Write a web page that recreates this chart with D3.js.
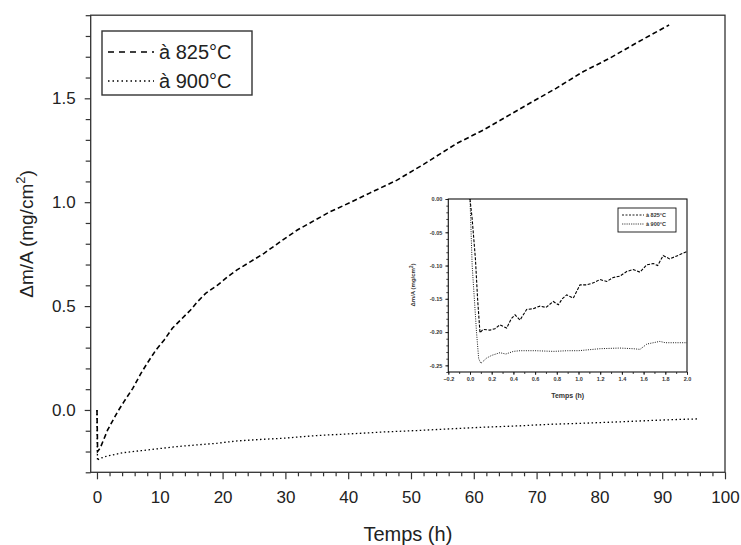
<!DOCTYPE html>
<html><head><meta charset="utf-8">
<script src="https://cdn.jsdelivr.net/npm/d3@7/dist/d3.min.js"></script>
<style>
html,body{margin:0;padding:0;background:#fff;}
text{font-family:"Liberation Sans",Arial,sans-serif;}
</style></head>
<body><svg id="c" width="741" height="545"></svg>
<script>
// ---------- Data (main chart) ----------
const seriesNames = ["à 825°C", "à 900°C"];
const t825 = [0, 0.05, 0.1, 0.5, 1.7, 3.3, 4.3, 5.7, 7.0, 8.0, 9.4, 10.7, 12.0, 13.3, 14.9, 16.0, 17.3, 19.2, 20.8, 22.3, 24.4, 26.6, 29.2, 31.9, 34.5, 37.1, 40.3, 43.5, 47.7, 52.0, 57.3, 61.5, 65.7, 68.9, 73.1, 77.4, 81.6, 85.8, 91.1];
const v825 = [0, -0.1, -0.2, -0.184, -0.096, -0.008, 0.04, 0.104, 0.176, 0.225, 0.289, 0.337, 0.393, 0.433, 0.481, 0.521, 0.561, 0.601, 0.641, 0.674, 0.713, 0.754, 0.810, 0.866, 0.91, 0.954, 0.998, 1.045, 1.105, 1.182, 1.283, 1.347, 1.42, 1.476, 1.548, 1.628, 1.692, 1.765, 1.853];
const t900 = [0, 0.08, 0.3, 1.7, 4.3, 7.0, 9.6, 12.8, 16.0, 19.2, 22.3, 26.6, 29.7, 35.0, 40.3, 45.6, 50.9, 56.2, 61.5, 66.8, 72.1, 77.3, 82.6, 87.9, 93.2, 95.9];
const v900 = [0, -0.245, -0.235, -0.221, -0.205, -0.196, -0.187, -0.176, -0.168, -0.160, -0.149, -0.141, -0.136, -0.123, -0.115, -0.106, -0.099, -0.091, -0.083, -0.077, -0.069, -0.064, -0.058, -0.051, -0.045, -0.043];
const xTicks = [0, 10, 20, 30, 40, 50, 60, 70, 80, 90, 100];
const yTicks = [0.0, 0.5, 1.0, 1.5];

// ---------- Data (inset) ----------
const it825 = [0, 0.02, 0.05, 0.07, 0.092, 0.12, 0.184, 0.23, 0.276, 0.338, 0.38, 0.415, 0.461, 0.522, 0.58, 0.645, 0.7, 0.768, 0.814, 0.85, 0.891, 0.952, 1.014, 1.075, 1.137, 1.198, 1.26, 1.32, 1.38, 1.444, 1.505, 1.567, 1.628, 1.69, 1.73, 1.78, 1.84, 1.9, 2.0];
const iv825 = [0, -0.03, -0.09, -0.15, -0.201, -0.196, -0.197, -0.195, -0.189, -0.194, -0.18, -0.174, -0.182, -0.166, -0.165, -0.161, -0.163, -0.154, -0.159, -0.15, -0.144, -0.149, -0.129, -0.129, -0.126, -0.121, -0.124, -0.118, -0.116, -0.109, -0.106, -0.110, -0.099, -0.097, -0.1, -0.085, -0.09, -0.086, -0.079];
const it900 = [0, 0.01, 0.02, 0.04, 0.06, 0.08, 0.1, 0.154, 0.2, 0.276, 0.33, 0.4, 0.46, 0.6, 0.77, 0.9, 1.0, 1.198, 1.38, 1.505, 1.567, 1.63, 1.75, 1.8, 2.0];
const iv900 = [0, -0.05, -0.1, -0.15, -0.2, -0.24, -0.247, -0.239, -0.235, -0.231, -0.233, -0.229, -0.228, -0.228, -0.229, -0.228, -0.228, -0.225, -0.224, -0.225, -0.226, -0.218, -0.214, -0.216, -0.216];
const ixTicks = [-0.2, 0.0, 0.2, 0.4, 0.6, 0.8, 1.0, 1.2, 1.4, 1.6, 1.8, 2.0];
const iyTicks = [0.00, -0.05, -0.10, -0.15, -0.20, -0.25];

const svg = d3.select("#c");
const zip = (a, b) => a.map((d, i) => [d, b[i]]);

// ---------- Main chart ----------
const L = 90.7, R = 725, T = 15.2, B = 472.3;
const x = d3.scaleLinear().domain([-1, 100]).range([L, R]);
const y = d3.scaleLinear().domain([-0.3, 1.9]).range([B, T]);

svg.append("rect").attr("x", L).attr("y", T).attr("width", R - L).attr("height", B - T)
  .attr("fill", "none").attr("stroke", "#333").attr("stroke-width", 1.3);

const xMinor = d3.range(0, 101, 2).filter(v => v % 10 !== 0);
const gx = svg.append("g").attr("transform", `translate(0,${B})`);
gx.call(d3.axisBottom(x).tickValues(xMinor).tickSize(4).tickFormat(""));
gx.append("g").call(d3.axisBottom(x).tickValues(xTicks).tickSize(7).tickPadding(12).tickFormat(d3.format("d")));
gx.selectAll(".domain").remove();
gx.selectAll("line").attr("stroke", "#333").attr("stroke-width", 1.2);
gx.selectAll("text").attr("font-size", 17).attr("fill", "#222").attr("font-family", "Liberation Sans, Arial, sans-serif");

const yMinor = d3.range(-0.3, 1.91, 0.1).map(v => Math.round(v * 10) / 10).filter(v => Math.abs(v * 2 - Math.round(v * 2)) > 1e-6);
const gy = svg.append("g").attr("transform", `translate(${L},0)`);
gy.call(d3.axisLeft(y).tickValues(yMinor).tickSize(5).tickFormat(""));
gy.append("g").call(d3.axisLeft(y).tickValues(yTicks).tickSize(6).tickPadding(9).tickFormat(d3.format(".1f")));
gy.selectAll(".domain").remove();
gy.selectAll("line").attr("stroke", "#333").attr("stroke-width", 1.2);
gy.selectAll("text").attr("font-size", 17).attr("fill", "#222").attr("font-family", "Liberation Sans, Arial, sans-serif");

svg.append("text").attr("x", x(49.5)).attr("y", 541).attr("text-anchor", "middle")
  .attr("font-size", 20).attr("fill", "#222").text("Temps (h)");
const yl = svg.append("text").attr("transform", "translate(33,234) rotate(-90)").attr("text-anchor", "middle")
  .attr("font-size", 19).attr("fill", "#222");
yl.append("tspan").text("Δm/A (mg/cm");
yl.append("tspan").attr("dy", -8).attr("font-size", 13).text("2");
yl.append("tspan").attr("dy", 8).text(")");

const line = d3.line().x(d => x(d[0])).y(d => y(d[1]));
svg.append("path").datum(zip(t825, v825)).attr("d", line).attr("fill", "none")
  .attr("stroke", "#000").attr("stroke-width", 1.6).attr("stroke-dasharray", "5,3");
svg.append("path").datum(zip(t900, v900)).attr("d", line).attr("fill", "none")
  .attr("stroke", "#000").attr("stroke-width", 1.3).attr("stroke-dasharray", "1.5,2.5");

const lg = svg.append("g");
lg.append("rect").attr("x", 102).attr("y", 31).attr("width", 150).attr("height", 64)
  .attr("fill", "#fff").attr("stroke", "#333").attr("stroke-width", 1.4);
const dashes = ["6,5", "1.5,3"];
const widths = [1.4, 1.3];
seriesNames.forEach((n, i) => {
  const yy = 52 + i * 29;
  lg.append("line").attr("x1", 108).attr("x2", 154).attr("y1", yy).attr("y2", yy)
    .attr("stroke", "#000").attr("stroke-width", widths[i]).attr("stroke-dasharray", dashes[i]);
  lg.append("text").attr("x", 159).attr("y", yy + 6.5).attr("font-size", 20).attr("fill", "#222").text(n);
});

// ---------- Inset ----------
const iL = 448.3, iR = 687, iT = 199, iB = 372;
const ix = d3.scaleLinear().domain([-0.2, 2.0]).range([iL, iR]);
const iy = d3.scaleLinear().domain([-0.26, 0.0]).range([iB, iT]);
const ig = svg.append("g");
ig.append("rect").attr("x", iL).attr("y", iT).attr("width", iR - iL).attr("height", iB - iT)
  .attr("fill", "#fff").attr("stroke", "#111").attr("stroke-width", 1.1);

const ixMinor = d3.range(-0.2, 2.001, 0.1).map(v => Math.round(v * 10) / 10);
const igx = ig.append("g").attr("transform", `translate(0,${iB})`);
igx.call(d3.axisBottom(ix).tickValues(ixMinor).tickSize(2).tickFormat(""));
igx.append("g").call(d3.axisBottom(ix).tickValues(ixTicks).tickSize(3).tickPadding(2).tickFormat(d3.format(".1f")));
igx.selectAll(".domain").remove();
igx.selectAll("line").attr("stroke", "#111").attr("stroke-width", 0.8);
igx.selectAll("text").attr("font-size", 5.5).attr("font-weight", "bold").attr("fill", "#333").attr("font-family", "Liberation Sans, Arial, sans-serif");

const iyMinor = d3.range(-0.26, 0.0001, 0.01).map(v => Math.round(v * 100) / 100);
const igy = ig.append("g").attr("transform", `translate(${iL},0)`);
igy.call(d3.axisLeft(iy).tickValues(iyMinor).tickSize(2).tickFormat(""));
igy.append("g").call(d3.axisLeft(iy).tickValues(iyTicks).tickSize(3).tickPadding(3).tickFormat(d => d3.format(".2f")(d).replace("−", "-")));
igy.selectAll(".domain").remove();
igy.selectAll("line").attr("stroke", "#111").attr("stroke-width", 0.8);
igy.selectAll("text").attr("font-size", 5.5).attr("font-weight", "bold").attr("fill", "#333").attr("font-family", "Liberation Sans, Arial, sans-serif");

ig.append("text").attr("x", (iL + iR) / 2).attr("y", 398).attr("text-anchor", "middle")
  .attr("font-size", 7).attr("font-weight", "bold").attr("fill", "#333").text("Temps (h)");
const iyl = ig.append("text").attr("transform", "translate(415,285) rotate(-90)").attr("text-anchor", "middle")
  .attr("font-size", 6).attr("font-weight", "bold").attr("fill", "#333");
iyl.append("tspan").text("Δm/A (mg/cm");
iyl.append("tspan").attr("dy", -2.5).attr("font-size", 4.5).text("2");
iyl.append("tspan").attr("dy", 2.5).text(")");

const iline = d3.line().x(d => ix(d[0])).y(d => iy(d[1]));
ig.append("path").datum(zip(it825, iv825)).attr("d", iline).attr("fill", "none")
  .attr("stroke", "#000").attr("stroke-width", 1.1).attr("stroke-dasharray", "3,1.5");
ig.append("path").datum(zip(it900, iv900)).attr("d", iline).attr("fill", "none")
  .attr("stroke", "#000").attr("stroke-width", 0.9).attr("stroke-dasharray", "1,1.3");

const ilg = ig.append("g");
ilg.append("rect").attr("x", 618).attr("y", 208).attr("width", 58).attr("height", 24)
  .attr("fill", "#fff").attr("stroke", "#111").attr("stroke-width", 0.9);
const idash = ["2,1.5", "0.8,1"];
seriesNames.forEach((n, i) => {
  const yy = 215 + i * 9;
  ilg.append("line").attr("x1", 622).attr("x2", 644).attr("y1", yy).attr("y2", yy)
    .attr("stroke", "#000").attr("stroke-width", 0.9).attr("stroke-dasharray", idash[i]);
  ilg.append("text").attr("x", 646).attr("y", yy + 2).attr("font-size", 5.5).attr("font-weight", "bold")
    .attr("fill", "#333").text(n);
});
</script></body></html>
